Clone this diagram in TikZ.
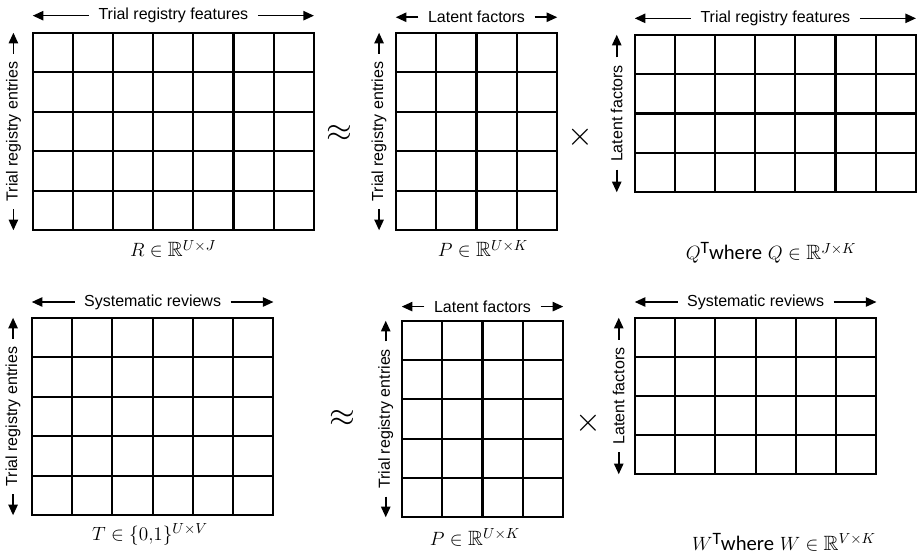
\documentclass[tikz,border=0pt]{standalone}
\usepackage{amsmath}
\usepackage{amssymb}
\usepackage[no-math]{fontspec}
\setmainfont{Liberation Sans}
\newfontfamily\calfont{Carlito}
\usetikzlibrary{arrows.meta,positioning,fit}
\tikzset{
  cellline/.style={line width=1.6pt},
  axislbl/.style={font=\fontsize{12}{14}\selectfont, inner xsep=7pt, inner ysep=0pt},
  sidelbl/.style={axislbl, rotate=90, inner xsep=5.5pt},
  dimarrow/.style={-{Triangle[length=8pt,width=7pt]}, line width=1.2pt},
  mathlbl/.style={font=\fontsize{15.5}{17}\selectfont, inner sep=0pt, anchor=base},
  opsym/.style={font=\fontsize{24}{26}\selectfont, inner sep=0pt}
}

\begin{document}
\begin{tikzpicture}[x=0.75pt, y=-0.75pt]
\useasboundingbox (0,0) rectangle (923,559);
% matrices: name/left/top/columns/rows/cell width/cell height
\foreach \nm/\gx/\gy/\nc/\nr/\cw/\ch in {R/33/33/7/5/40.1/39.4, P/396/33/4/5/40.25/39.4, Q/635/35/7/4/40.1/39.25, T/32/318/6/5/40.2/39.4, Pb/402/321/4/5/40.25/39.2, W/635/318/6/4/40.2/39}{
  \draw[cellline] (\gx,\gy) rectangle (\gx+\nc*\cw,\gy+\nr*\ch);
  \foreach \i in {1,...,\nc} \draw[cellline] (\gx+\i*\cw,\gy) -- (\gx+\i*\cw,\gy+\nr*\ch);
  \foreach \j in {1,...,\nr} \draw[cellline] (\gx,\gy+\j*\ch) -- (\gx+\nc*\cw,\gy+\j*\ch);
  \node[fit={(\gx,\gy) (\gx+\nc*\cw,\gy+\nr*\ch)}, inner sep=0pt] (\nm) {};
}

% headings over the columns
\node[axislbl, above=7pt of R] (Rh) {Trial registry features};
\node[axislbl, above=7pt of P] (Ph) {Latent factors};
\node[axislbl, above=6.5pt of Q] (Qh) {Trial registry features};
\node[axislbl, above=6pt of T] (Th) {Systematic reviews};
\node[axislbl, above=6pt of Pb] (Pbh) {Latent factors};
\node[axislbl, above=6pt of W] (Wh) {Systematic reviews};
\foreach \nm in {R,P,Q,T,Pb,W}{
  \draw[dimarrow] (\nm h.west) -- (\nm h.west -| \nm.west);
  \draw[dimarrow] (\nm h.east) -- (\nm h.east -| \nm.east);
}

% headings beside the rows
\node[sidelbl] (Rv) at ([xshift=-14.5pt]R.west) {Trial registry entries};
\node[sidelbl] (Pv) at ([xshift=-12.5pt]P.west) {Trial registry entries};
\node[sidelbl] (Qv) at ([xshift=-13.5pt]Q.west) {Latent factors};
\node[sidelbl] (Tv) at ([xshift=-14pt]T.west) {Trial registry entries};
\node[sidelbl] (Pbv) at ([xshift=-12pt]Pb.west) {Trial registry entries};
\node[sidelbl] (Wv) at ([xshift=-12pt]W.west) {Latent factors};
\foreach \nm in {R,P,Q,T,Pb,W}{
  \draw[dimarrow] (\nm v.east) -- (\nm v.east |- \nm.north);
  \draw[dimarrow] (\nm v.west) -- (\nm v.west |- \nm.south);
}

% operators
\node[opsym] (apx1) at (339,133) {$\approx$};
\node[opsym] (mul1) at (580,137) {$\times$};
\node[opsym] (apx2) at (342,418) {$\approx$};
\node[opsym] (mul2) at (588,423) {$\times$};

% matrix names
\node[mathlbl] (Rm) at (173,257) {$R\in\mathbb{R}^{U\times J}$};
\node[mathlbl] (Pm) at (483,257) {$P\in\mathbb{R}^{U\times K}$};
\node[mathlbl] (Qm) at (771,260) {$Q$\raisebox{4.5pt}{\calfont\fontsize{13}{13}\selectfont T}{\calfont where} $Q\in\mathbb{R}^{J\times K}$};
\node[mathlbl] (Tm) at (150,540) {$T\in\{0{,}1\}^{U\times V}$};
\node[mathlbl] (Pbm) at (475,545) {$P\in\mathbb{R}^{U\times K}$};
\node[mathlbl] (Wm) at (784,550) {$W$\raisebox{4.5pt}{\calfont\fontsize{13}{13}\selectfont T}{\calfont where} $W\in\mathbb{R}^{V\times K}$};
\end{tikzpicture}
\end{document}
